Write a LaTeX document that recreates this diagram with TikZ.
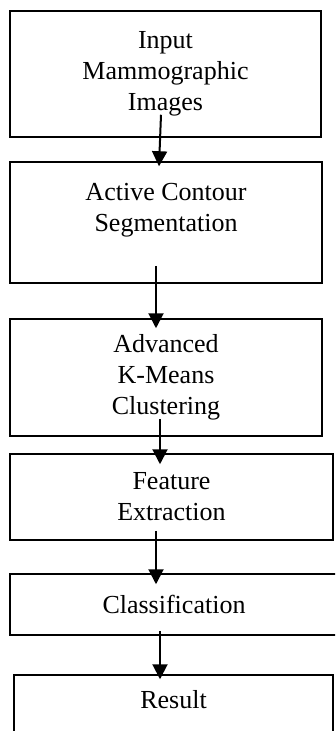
\documentclass[tikz,border=0pt]{standalone}
\usepackage{fontspec}
\setmainfont{Liberation Serif}
\usetikzlibrary{arrows.meta}

\begin{document}
\begin{tikzpicture}[%
    x=1pt, y=-1pt,                     % work in page pixels, top-down
    font=\fontsize{26}{31}\selectfont, % Times-like text
    ]
% -------------------------------------------------
% Box and connector styles
\tikzset{
  box/.style={draw, line width=1.5pt, align=center, inner sep=0pt},
  flow/.style={-{Triangle[width=15pt,length=15pt]}, line width=2pt}
}
\clip (0,0) rectangle (335,731);
% -------------------------------------------------
% Start by placing the boxes
\node [box, minimum width=311pt, minimum height=126pt] (input) at (165.5,74)
  {Input\\Mammographic\\Images};
\node [box, minimum width=312pt, minimum height=121pt] (contour) at (166,222.5)
  {Active Contour\\Segmentation\\[0pt]\mbox{}};
\node [box, minimum width=312pt, minimum height=117pt] (kmeans) at (166,377.5)
  {Advanced\\K-Means\\Clustering};
\node [box, minimum width=323pt, minimum height=86pt] (feature) at (171.5,497)
  {Feature\\Extraction};
\node [box, minimum width=328pt, minimum height=61pt] (classify) at (174,604.5)
  {Classification};
\node [box, minimum width=319pt, minimum height=84pt, text depth=35pt] (result) at (173.5,717)
  {Result};

% Connectors run from inside one box into the next
\draw [flow] ([xshift=-4.5pt,yshift=23pt]input.south) -- ([xshift=-7pt,yshift=-5pt]contour.north);
\draw [flow] ([xshift=-10pt,yshift=18pt]contour.south) -- ([xshift=-10pt,yshift=-10pt]kmeans.north);
\draw [flow] ([xshift=-6pt,yshift=18pt]kmeans.south) -- ([xshift=-11.5pt,yshift=-11pt]feature.north);
\draw [flow] ([xshift=-15.5pt,yshift=10pt]feature.south) -- ([xshift=-18pt,yshift=-11pt]classify.north);
\draw [flow] ([xshift=-14pt,yshift=5pt]classify.south) -- ([xshift=-13.5pt,yshift=-5pt]result.north);
% -------------------------------------------------
\end{tikzpicture}
\end{document}
